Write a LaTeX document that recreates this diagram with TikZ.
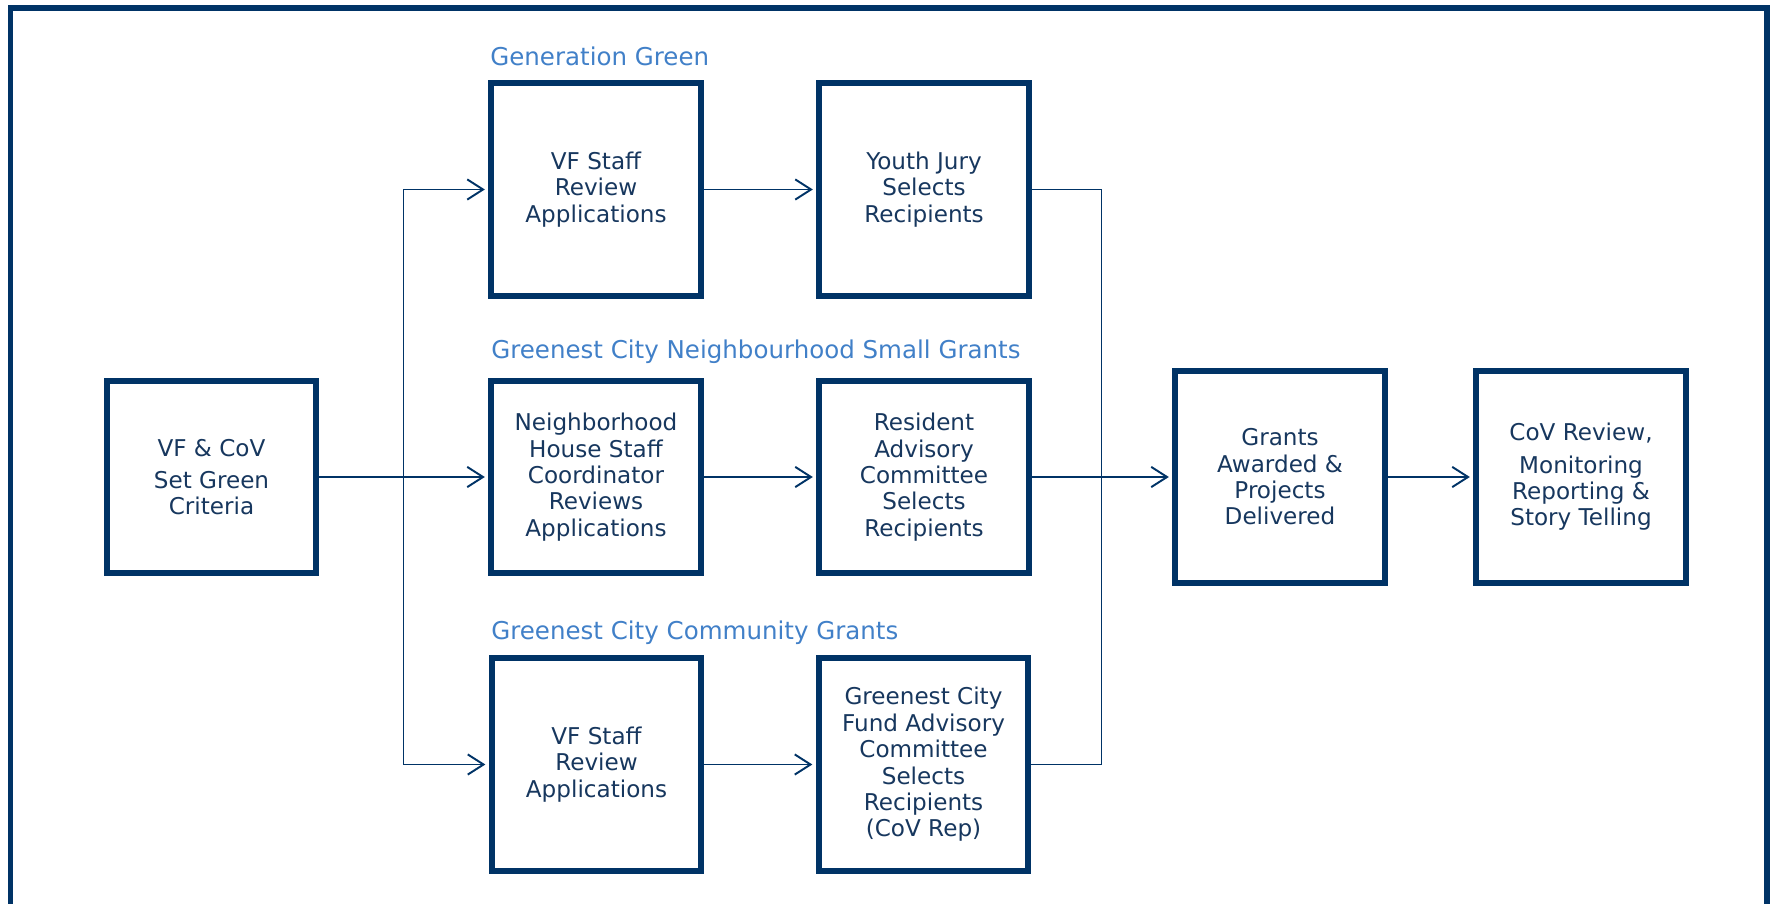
\documentclass[tikz,border=0pt]{standalone}
\usepackage{fontspec}
\setmainfont{DejaVu Sans}
\usetikzlibrary{arrows.meta}

\definecolor{navy}{RGB}{0,51,102}
\definecolor{textnavy}{RGB}{23,55,94}
\definecolor{labelblue}{RGB}{65,128,200}

\tikzset{
  stagebox/.style={draw=navy, line width=3.3pt, text=textnavy, align=center,
    minimum width=4.19cm, minimum height=4.25cm, inner sep=0pt,
    font=\fontsize{13.15}{15}\selectfont},
  shortbox/.style={stagebox, minimum height=3.85cm},
  grouplabel/.style={text=labelblue, anchor=base west, inner sep=0pt,
    font=\fontsize{13.95}{16}\selectfont},
  conn/.style={draw=navy, line width=1.1pt},
  connarrow/.style={conn, shorten >=2pt, -{Straight Barb[length=9pt,width=11.5pt]}}
}

\begin{document}
\begin{tikzpicture}
  \useasboundingbox (0,0) rectangle (35.42,18.06);
  \draw[navy, line width=3.4pt] (0.21,-0.5) -- (0.21,17.9) -- (35.33,17.9) -- (35.33,-0.5);

  \node[shortbox] (criteria) at (4.23,8.52) {VF \& CoV\\[3.4pt]Set Green\\Criteria};

  \node[grouplabel] (gglabel) at (9.80,16.74) {Generation Green};
  \node[stagebox] (ggstaff) at (11.92,14.27) {VF Staff\\Review\\Applications};
  \node[stagebox] (ggjury) at (18.48,14.27) {Youth Jury\\Selects\\Recipients};

  \node[grouplabel] (nslabel) at (9.82,10.88) {Greenest City Neighbourhood Small Grants};
  \node[shortbox] (nsstaff) at (11.92,8.52) {Neighborhood\\House Staff\\Coordinator\\Reviews\\Applications};
  \node[shortbox] (nsresident) at (18.48,8.52) {Resident\\Advisory\\Committee\\Selects\\Recipients};

  \node[grouplabel] (cglabel) at (9.82,5.27) {Greenest City Community Grants};
  \node[stagebox] (cgstaff) at (11.93,2.77) {VF Staff\\Review\\Applications};
  \node[stagebox] (cgfund) at (18.47,2.77) {Greenest City\\Fund Advisory\\Committee\\Selects\\Recipients\\(CoV Rep)};

  \node[stagebox] (awarded) at (25.60,8.52) {Grants\\Awarded \&\\Projects\\Delivered};
  \node[stagebox] (review) at (31.62,8.52) {CoV Review,\\[3.4pt]Monitoring\\Reporting \&\\Story Telling};

  \coordinate (split) at (8.07,8.52);
  \coordinate (merge) at (22.03,8.52);

  \draw[conn, line width=1.5pt] (criteria) -- (split);
  \draw[connarrow] (split) |- (ggstaff);
  \draw[connarrow] (split) -- (nsstaff);
  \draw[connarrow] (split) |- (cgstaff);

  \draw[connarrow] (ggstaff) -- (ggjury);
  \draw[connarrow] (nsstaff) -- (nsresident);
  \draw[connarrow] (cgstaff) -- (cgfund);

  \draw[conn] (ggjury) -| (merge);
  \draw[conn] (cgfund) -| (merge);
  \draw[conn] (nsresident) -- (merge);
  \draw[connarrow] (merge) -- (awarded);
  \draw[connarrow] (awarded) -- (review);
\end{tikzpicture}
\end{document}
